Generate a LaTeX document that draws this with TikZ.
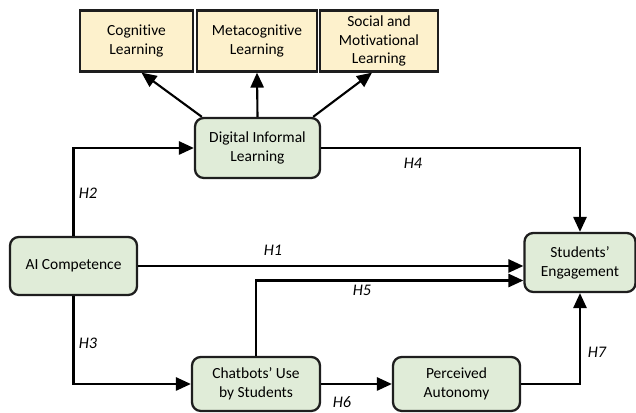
\documentclass[tikz,border=0pt]{standalone}
\usepackage{fontspec}
\setmainfont{Carlito}[Ligatures=NoCommon]
\usetikzlibrary{arrows.meta}
\definecolor{boxgreen}{HTML}{E0ECD8}
\definecolor{boxyellow}{HTML}{FDF1CC}
\definecolor{boxline}{HTML}{1E1E1E}
\begin{document}
\begin{tikzpicture}[
	construct/.style={draw=boxline, line width=1.3pt, fill=boxgreen, rounded corners=5pt,
		align=center, inner sep=2pt, font=\fontsize{8.8}{10.8}\selectfont},
	outcome/.style={draw=boxline, line width=1.3pt, fill=boxyellow,
		align=center, inner sep=2pt, font=\fontsize{8.8}{10.3}\selectfont},
	link/.style={line width=1.2pt, -{Triangle[length=8.5pt,width=7.5pt]}},
	hyp/.style={font=\fontsize{9.2}{11}\selectfont\itshape, inner sep=1pt}]
	\useasboundingbox (0,0) rectangle (12.72,8.26);
	% learning outcomes
	\node[outcome, minimum width=2.26cm, minimum height=1.22cm] (cog) at (2.73,7.44) {Cognitive\\Learning};
	\node[outcome, minimum width=2.40cm, minimum height=1.22cm] (meta) at (5.14,7.44) {Metacognitive\\Learning};
	\node[outcome, minimum width=2.36cm, minimum height=1.22cm] (soc) at (7.58,7.44) {Social and\\Motivational\\Learning};
	% constructs
	\node[construct, minimum width=2.50cm, minimum height=1.20cm] (dil) at (5.15,5.30) {Digital Informal\\Learning};
	\node[construct, minimum width=2.54cm, minimum height=1.16cm] (ai) at (1.47,2.94) {AI Competence};
	\node[construct, minimum width=2.22cm, minimum height=1.18cm] (se) at (11.60,3.01) {Students'\\Engagement};
	\node[construct, minimum width=2.56cm, minimum height=1.08cm] (cb) at (5.12,0.58) {Chatbots' Use\\by Students};
	\node[construct, minimum width=2.54cm, minimum height=1.08cm] (pa) at (9.13,0.58) {Perceived\\Autonomy};
	% paths
	\draw[link] ([xshift=0.16cm]dil.north west) -- ([xshift=0.1cm]cog.south);
	\draw[link] (dil.north) -- (meta.south);
	\draw[link] ([xshift=-0.16cm]dil.north east) -- ([xshift=-0.14cm]soc.south);
	\draw[link] (ai.north) |- (dil.west);
	\draw[link] (dil.east) -| (se.north);
	\draw[link] (ai.east) -- (ai.east -| se.west);
	\draw[link] (cb.north) |- ([yshift=-0.36cm]se.west);
	\draw[link] (ai.south) |- (cb.west);
	\draw[link] (cb.east) -- (pa.west);
	\draw[link] (pa.east) -| (se.south);
	% hypotheses
	\node[hyp] (h1) at (5.46,3.26) {H1};
	\node[hyp] (h2) at (1.76,4.40) {H2};
	\node[hyp] (h3) at (1.76,1.40) {H3};
	\node[hyp] (h4) at (8.26,5.00) {H4};
	\node[hyp] (h5) at (7.24,2.46) {H5};
	\node[hyp] (h6) at (6.84,0.22) {H6};
	\node[hyp] (h7) at (11.94,1.22) {H7};
\end{tikzpicture}
\end{document}
